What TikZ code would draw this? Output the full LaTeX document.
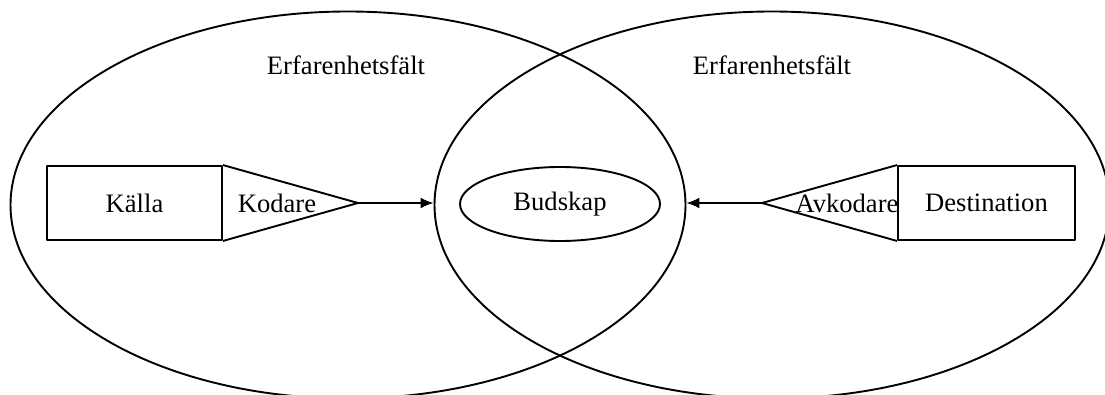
\documentclass[tikz,border=0pt]{standalone}
\usepackage{fontspec}
\setmainfont{Liberation Serif}
\usetikzlibrary{shapes.geometric,arrows.meta}
\tikzset{
  line/.style={line width=1.9pt, line join=round},
  field/.style={line, draw, ellipse, inner sep=0pt, minimum width=675pt, minimum height=387pt},
  boxnode/.style={line, draw, rectangle, inner sep=0pt, minimum height=74pt},
  msg/.style={line, draw, ellipse, inner sep=0pt, minimum width=200pt, minimum height=74pt},
  lbl/.style={inner sep=0pt},
  arr/.style={line, -{Latex[length=13pt,width=11pt]}}
}
\begin{document}
\begin{tikzpicture}[x=1pt,y=1pt,font=\fontsize{26.6}{32}\selectfont]
\useasboundingbox (0,0) rectangle (1105,394);
\clip (0,0) rectangle (1105,394);
\fill[white] (0,0) rectangle (1105,394);
% fields of experience
\node[field] (ell1) at (348,189) {};
\node[field] (ell2) at (772,189) {};
\node[lbl, anchor=base] (erf1) at (346,319) {Erfarenhetsfält};
\node[lbl, anchor=base] (erf2) at (772,319) {Erfarenhetsfält};
% source side
\node[boxnode, minimum width=175pt] (kalla) at (134.5,191) {Källa};
\coordinate (ktip) at (358,191);
\draw[line] (kalla.north east) -- (ktip) -- (kalla.south east);
\node[lbl] (kodare) at (277,191) {Kodare};
% message
\node[msg] (bud) at (560,190) {Budskap};
% destination side
\node[boxnode, minimum width=177pt] (dest) at (986.5,191) {Destination};
\coordinate (dtip) at (762,191);
\draw[line] (dest.north west) -- (dtip) -- (dest.south west);
\node[lbl] (avkodare) at (847,191) {Avkodare};
% arrows
\draw[arr] (ktip) -- (ktip -| ell2.west);
\draw[arr] (dtip) -- (dtip -| ell1.east);
\end{tikzpicture}
\end{document}
